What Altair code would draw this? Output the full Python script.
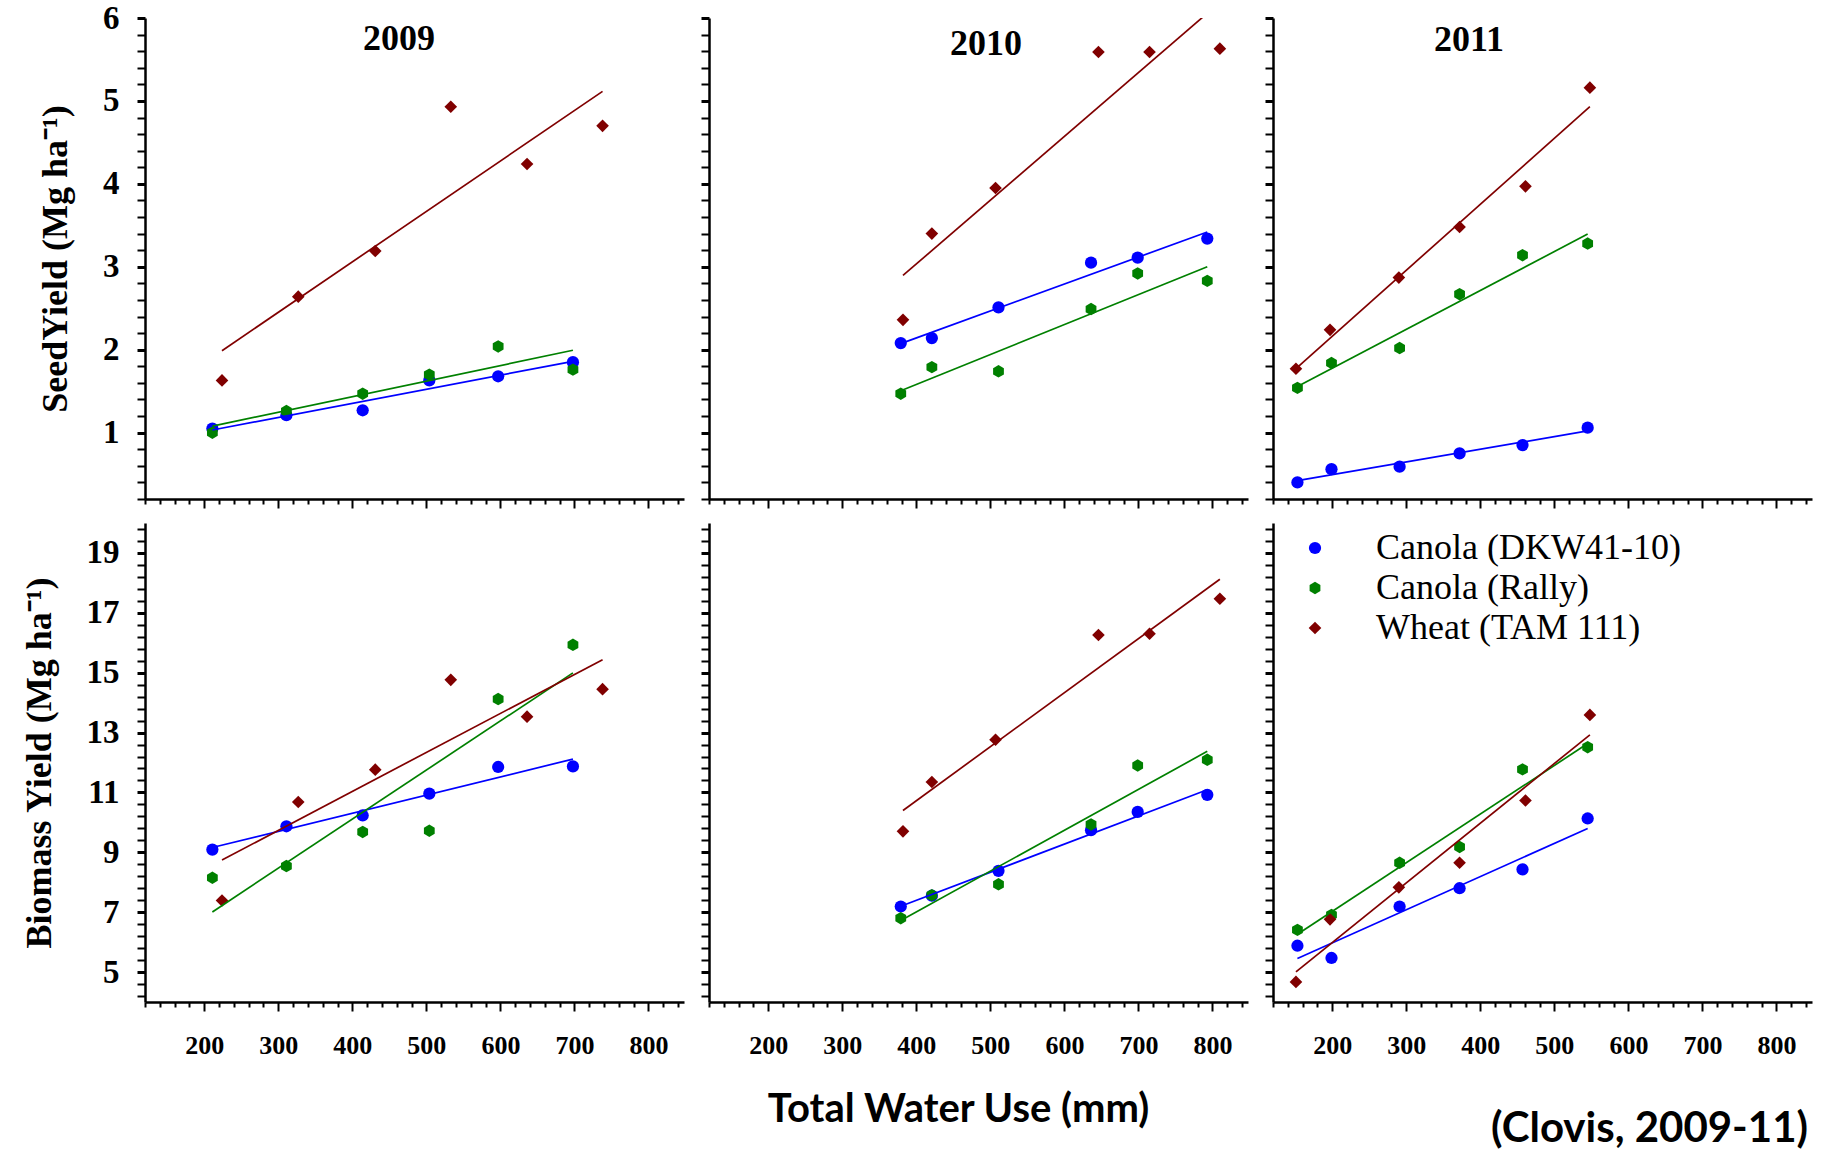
import altair as alt
import pandas as pd

crops = ["Canola (DKW41-10)", "Canola (Rally)", "Wheat (TAM 111)"]
crop_colors = ["#0000FF", "#008000", "#800000"]
years = ["2009", "2010", "2011"]

# total water use (mm)
canola_x_2009 = [211, 311, 414, 504, 597, 698]
wheat_x_2009 = [224, 327, 431, 533, 636, 738]
canola_x_2010 = [379, 421, 511, 636, 699, 793]
wheat_x_2010 = [382, 421, 507, 646, 715, 810]
canola_x_2011 = [153, 199, 291, 372, 457, 545]
wheat_x_2011 = [151, 197, 290, 372, 461, 548]

# seed yield (Mg/ha)
dkw_seed_2009 = [1.05, 1.21, 1.27, 1.63, 1.68, 1.85]
rally_seed_2009 = [1.00, 1.26, 1.47, 1.70, 2.04, 1.76]
wheat_seed_2009 = [1.63, 2.64, 3.19, 4.93, 4.24, 4.70]
dkw_seed_2010 = [2.08, 2.14, 2.51, 3.05, 3.11, 3.34]
rally_seed_2010 = [1.47, 1.79, 1.74, 2.49, 2.92, 2.83]
wheat_seed_2010 = [2.36, 3.40, 3.95, 5.59, 5.59, 5.63]
dkw_seed_2011 = [0.40, 0.56, 0.59, 0.75, 0.85, 1.06]
rally_seed_2011 = [1.54, 1.84, 2.02, 2.67, 3.14, 3.28]
wheat_seed_2011 = [1.77, 2.24, 2.87, 3.48, 3.97, 5.16]

# biomass yield (Mg/ha)
dkw_bio_2009 = [9.09, 9.87, 10.23, 10.96, 11.85, 11.87]
rally_bio_2009 = [8.15, 8.54, 9.68, 9.72, 14.12, 15.93]
wheat_bio_2009 = [7.39, 10.68, 11.76, 14.76, 13.53, 14.45]
dkw_bio_2010 = [7.19, 7.55, 8.38, 9.74, 10.35, 10.92]
rally_bio_2010 = [6.80, 7.57, 7.93, 9.93, 11.90, 12.09]
wheat_bio_2010 = [9.70, 11.35, 12.76, 16.26, 16.30, 17.47]
dkw_bio_2011 = [5.88, 5.47, 7.19, 7.80, 8.43, 10.13]
rally_bio_2011 = [6.41, 6.91, 8.65, 9.18, 11.77, 12.51]
wheat_bio_2011 = [4.67, 6.76, 7.83, 8.65, 10.73, 13.59]

x_ticks = list(range(120, 841, 20))
seed_ticks = [round(0.2 * k, 1) for k in range(1, 31)]
bio_ticks = [round(4.2 + 0.4 * k, 1) for k in range(0, 40)]

rows = []
def add(year, crop, xs, seeds, bios):
    for xv, s, b in zip(xs, seeds, bios):
        rows.append({"year": year, "crop": crop, "wue": xv, "seed": s, "biomass": b})

add("2009", crops[0], canola_x_2009, dkw_seed_2009, dkw_bio_2009)
add("2009", crops[1], canola_x_2009, rally_seed_2009, rally_bio_2009)
add("2009", crops[2], wheat_x_2009, wheat_seed_2009, wheat_bio_2009)
add("2010", crops[0], canola_x_2010, dkw_seed_2010, dkw_bio_2010)
add("2010", crops[1], canola_x_2010, rally_seed_2010, rally_bio_2010)
add("2010", crops[2], wheat_x_2010, wheat_seed_2010, wheat_bio_2010)
add("2011", crops[0], canola_x_2011, dkw_seed_2011, dkw_bio_2011)
add("2011", crops[1], canola_x_2011, rally_seed_2011, rally_bio_2011)
add("2011", crops[2], wheat_x_2011, wheat_seed_2011, wheat_bio_2011)
df = pd.DataFrame(rows)

SERIF = "Liberation Serif"
SANS = "Lato"
HEX = "M0,-1L0.866,-0.5L0.866,0.5L0,1L-0.866,0.5L-0.866,-0.5Z"

W = 539
H_TOP = 481
H_BOT = 479

color_scale = alt.Scale(domain=crops, range=crop_colors)
shape_scale = alt.Scale(domain=crops, range=["circle", HEX, "diamond"])
size_scale = alt.Scale(domain=crops, range=[150, 160, 220])

year_pos = {"2009": (254, 21), "2010": (277, 26), "2011": (196, 22)}

X_MAJOR = "datum.value % 100 === 0 && datum.value >= 200"


def x_axis(row, col):
    kw = dict(
        values=x_ticks, tickCount=200, grid=False, domainColor="black", domainWidth=2.5,
        tickColor="black", tickWidth=2, labelOverlap=False, labelBound=False,
        tickSize={"condition": {"test": X_MAJOR, "value": 9}, "value": 5},
        labelFont=SERIF, labelFontWeight="bold", labelColor="black",
        labelFontSize={"condition": {"test": X_MAJOR, "value": 26}, "value": 1},
        labelPadding=21,
        labelExpr=f"{X_MAJOR} ? format(datum.value, 'd') : ''",
    )
    if row == 0:
        kw["labels"] = False
        kw["title"] = None
    else:
        if col == 1:
            kw.update(title="Total Water Use (mm)", titleFont=SANS, titleFontSize=40,
                      titleFontWeight="bold", titleColor="black", titleX=249, titleY=107,
                      titleBaseline="middle", titleAlign="center")
        elif col == 2:
            kw.update(title="(Clovis, 2009-11)", titleFont=SANS, titleFontSize=42,
                      titleFontWeight="bold", titleColor="black", titleX=376, titleY=126,
                      titleBaseline="middle", titleAlign="center")
        else:
            kw["title"] = None
    return alt.Axis(**kw)


def y_axis(row, col):
    if row == 0:
        vals = seed_ticks
        test = "datum.value % 1 === 0"
        title = "SeedYield (Mg ha\u207b\u00b9)"
    else:
        vals = bio_ticks
        test = "datum.value % 2 === 1"
        title = "Biomass Yield (Mg ha\u207b\u00b9)"
    kw = dict(
        values=vals, tickCount=200, grid=False, domainColor="black", domainWidth=2.5,
        tickColor="black", tickSize=8, labelOverlap=False, labelBound=False,
        tickWidth={"condition": {"test": test, "value": 3}, "value": 2},
        labelFont=SERIF, labelFontWeight="bold", labelColor="black",
        labelFontSize={"condition": {"test": test, "value": 33}, "value": 1},
        labelPadding=18,
        labelExpr=f"{test} ? format(datum.value, 'd') : ''",
    )
    if col == 0:
        kw.update(title=title, titleFont=SERIF, titleFontSize=36, titleFontWeight="bold",
                  titleColor="black", titlePadding=28)
    else:
        kw["labels"] = False
        kw["title"] = None
    return alt.Axis(**kw)


LEG = dict(title=None, orient="none", legendX=1152, legendY=512,
           labelFont=SERIF, labelFontSize=36, labelColor="black",
           symbolSize=140, labelOffset=43, rowPadding=4,
           symbolStrokeWidth=0, padding=0, labelLimit=600)


def panel(row, col):
    year = years[col]
    metric = "seed" if row == 0 else "biomass"
    ydom = [0.2, 6.0] if row == 0 else [4.0, 20.0]
    base = alt.Chart(df).transform_filter(alt.datum.year == year)
    xenc = alt.X("wue:Q", scale=alt.Scale(domain=[120, 848], nice=False, zero=False),
                 axis=x_axis(row, col))
    yenc = alt.Y(f"{metric}:Q", scale=alt.Scale(domain=ydom, nice=False, zero=False),
                 axis=y_axis(row, col))
    pts = base.mark_point(filled=True, opacity=1, strokeWidth=0).encode(
        x=xenc, y=yenc,
        color=alt.Color("crop:N", scale=color_scale, legend=alt.Legend(**LEG)),
        shape=alt.Shape("crop:N", scale=shape_scale, legend=alt.Legend(**LEG)),
        size=alt.Size("crop:N", scale=size_scale, legend=None),
    )
    lines = base.transform_regression("wue", metric, groupby=["crop"]).mark_line(
        clip=True, strokeWidth=1.7).encode(
        x=alt.X("wue:Q"), y=alt.Y(f"{metric}:Q"),
        stroke=alt.Stroke("crop:N", scale=color_scale, legend=None),
    )
    layers = [pts, lines]
    if row == 0:
        px, py = year_pos[year]
        lab = alt.Chart(pd.DataFrame({"t": [year]})).mark_text(
            font=SERIF, fontSize=36, fontWeight="bold", color="black", baseline="middle",
            align="center").encode(text="t:N", x=alt.value(px), y=alt.value(py))
        layers.append(lab)
    return alt.layer(*layers).properties(width=W, height=H_TOP if row == 0 else H_BOT)


top = alt.hconcat(*[panel(0, c) for c in range(3)], spacing=15)
bot = alt.hconcat(*[panel(1, c) for c in range(3)], spacing=15)
chart = alt.vconcat(top, bot, spacing=14).properties(
    padding={"left": 21, "top": 2, "right": 10, "bottom": 0}, background="white"
).configure_view(stroke=None).resolve_scale(color="shared", shape="shared")

chart.save("out.html", embed_options={"renderer": "svg", "actions": False})
